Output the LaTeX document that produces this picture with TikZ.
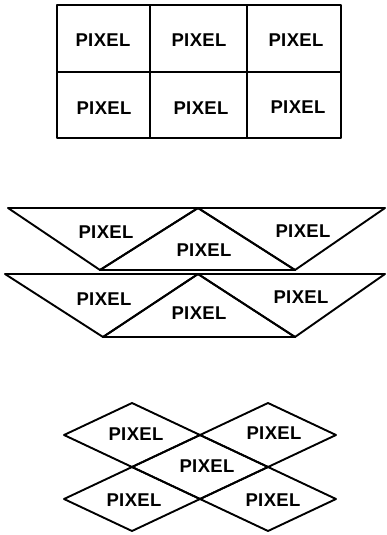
\documentclass[tikz,border=0pt]{standalone}
\usepackage{fontspec}
\newfontfamily\pixfont[LetterSpace=2]{Liberation Sans Bold}
\usetikzlibrary{positioning}

\begin{document}
\begin{tikzpicture}[x=1pt, y=-1pt, line width=1.9pt, line join=round,
    every node/.style={font=\pixfont\fontsize{18.5}{18.5}\selectfont, inner sep=0pt}]
  \useasboundingbox (0,0) rectangle (386,535);
  % square pixels
  \draw (57,5) rectangle (341,138);
  \draw (57,72) -- (341,72);
  \draw (150,5) -- (150,138);
  \draw (247,5) -- (247,138);
  \node (s11) at (103,40)  {PIXEL};
  \node (s12) at (199,40)  {PIXEL};
  \node (s13) at (296,40)  {PIXEL};
  \node (s21) at (104,108) {PIXEL};
  \node (s22) at (201,108) {PIXEL};
  \node (s23) at (298,107) {PIXEL};
  % triangular pixels
  \draw (8,208) -- (198,208) -- (100,270) -- cycle;
  \draw (198,208) -- (295,270) -- (100,270) -- cycle;
  \draw (198,208) -- (385,208) -- (295,270) -- cycle;
  \draw (5,274) -- (198,274) -- (103,337) -- cycle;
  \draw (198,274) -- (295,337) -- (103,337) -- cycle;
  \draw (198,274) -- (385,274) -- (295,337) -- cycle;
  \node (t11) at (106,232) {PIXEL};
  \node (t12) at (204,250) {PIXEL};
  \node (t13) at (303,231) {PIXEL};
  \node (t21) at (104,299) {PIXEL};
  \node (t22) at (199,313) {PIXEL};
  \node (t23) at (301,297) {PIXEL};
  % diamond pixels
  \foreach \cx/\cy in {132/435, 268/435, 200/467, 132/499, 268/499}
    \draw (\cx-68,\cy) -- (\cx,\cy-32) -- (\cx+68,\cy) -- (\cx,\cy+32) -- cycle;
  \node (d11) at (136,434) {PIXEL};
  \node (d12) at (274,433) {PIXEL};
  \node (d2)  at (207,466) {PIXEL};
  \node (d31) at (134,500) {PIXEL};
  \node (d32) at (273,500) {PIXEL};
\end{tikzpicture}
\end{document}
